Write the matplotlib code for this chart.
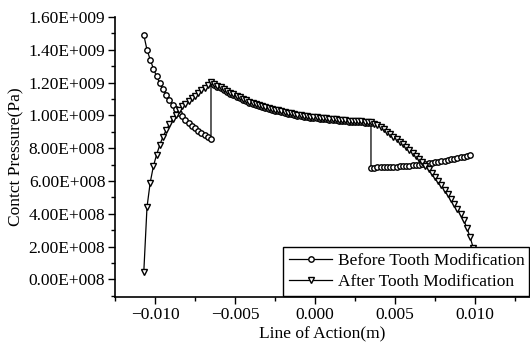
import matplotlib
matplotlib.use('Agg')
import matplotlib.pyplot as plt
from matplotlib.ticker import FixedLocator, FixedFormatter, MultipleLocator

plt.rcParams['font.family'] = ['Liberation Serif', 'DejaVu Serif']
plt.rcParams['axes.unicode_minus'] = True

# positions along the line of action, in units of 0.1 mm
x_before = [-107, -105, -103, -101, -99, -97, -95, -93, -91, -89, -87, -85, -83, -81, -79, -77, -75, -73, -71, -69, -67, -65,
            -65, -63, -61, -59, -57, -55, -53, -51, -49, -47, -45, -43, -41, -39, -37, -35, -33, -31, -29, -27, -25, -23, -21,
            -19, -17, -15, -13, -11, -9, -7, -5, -3, -1, 1, 3, 5, 7, 9, 11, 13, 15, 17, 19, 21, 23, 25, 27, 29, 31, 33, 35,
            35, 37, 39, 41, 43, 45, 47, 49, 51, 53, 55, 57, 59, 61, 63, 65, 67, 69, 71, 73, 75, 77, 79, 81, 83, 85, 87, 89,
            91, 93, 95, 97]
# contact pressure before modification, 1e9 Pa
p_before = [1.49, 1.40, 1.34, 1.285, 1.238, 1.197, 1.160, 1.126, 1.095, 1.066, 1.040, 1.016, 0.994, 0.974, 0.955, 0.938,
            0.922, 0.907, 0.893, 0.880, 0.868, 0.857,
            1.200, 1.187, 1.175, 1.164, 1.153, 1.142, 1.132, 1.122, 1.112, 1.103, 1.094, 1.086, 1.078, 1.071, 1.064, 1.057,
            1.051, 1.045, 1.039, 1.034, 1.029, 1.024, 1.019, 1.015, 1.011, 1.007, 1.003, 0.999, 0.996, 0.992, 0.989, 0.986,
            0.984, 0.981, 0.979, 0.977, 0.975, 0.973, 0.971, 0.969, 0.967, 0.965, 0.964, 0.962, 0.961, 0.959, 0.958, 0.957,
            0.955, 0.954, 0.953,
            0.680, 0.681, 0.682, 0.683, 0.684, 0.685, 0.686, 0.687, 0.688, 0.689, 0.690, 0.692, 0.694, 0.696, 0.698, 0.700,
            0.702, 0.705, 0.708, 0.711, 0.714, 0.717, 0.720, 0.723, 0.727, 0.731, 0.735, 0.739, 0.743, 0.747, 0.752, 0.757]

x_after = [-107, -105, -103, -101, -99, -97, -95, -93, -91, -89, -87, -85, -83, -81, -79, -77, -75, -73, -71, -69, -67, -65,
           -63, -61, -59, -57, -55, -53, -51, -49, -47, -45, -43, -41, -39, -37, -35, -33, -31, -29, -27, -25, -23, -21,
           -19, -17, -15, -13, -11, -9, -7, -5, -3, -1, 1, 3, 5, 7, 9, 11, 13, 15, 17, 19, 21, 23, 25, 27, 29, 31, 33, 35,
           37, 39, 41, 43, 45, 47, 49, 51, 53, 55, 57, 59, 61, 63, 65, 67, 69, 71, 73, 75, 77, 79, 81, 83, 85, 87, 89,
           91, 93, 95, 97, 99]
p_after = [0.045, 0.44, 0.59, 0.69, 0.76, 0.82, 0.87, 0.91, 0.945, 0.975, 1.005, 1.03, 1.055, 1.07, 1.088, 1.105, 1.12,
           1.137, 1.153, 1.168, 1.184, 1.205,
           1.193, 1.181, 1.170, 1.159, 1.148, 1.138, 1.128, 1.118, 1.109, 1.100, 1.092, 1.084, 1.077, 1.070, 1.063,
           1.057, 1.051, 1.045, 1.040, 1.035, 1.030, 1.025, 1.021, 1.017, 1.013, 1.009, 1.005, 1.002, 0.998, 0.995,
           0.992, 0.990, 0.987, 0.985, 0.983, 0.981, 0.979, 0.977, 0.975, 0.973, 0.971, 0.970, 0.968, 0.967, 0.965,
           0.964, 0.963, 0.961, 0.960, 0.958,
           0.950, 0.940, 0.928, 0.915, 0.901, 0.886, 0.871, 0.856, 0.840, 0.824, 0.807, 0.790, 0.772, 0.754, 0.735,
           0.715, 0.694, 0.672, 0.649, 0.625, 0.600, 0.574, 0.546, 0.518, 0.490, 0.461, 0.430, 0.398, 0.360, 0.313,
           0.255, 0.19]

x_ticks = [-0.010, -0.005, 0.000, 0.005, 0.010]
x_tick_labels = ['\u22120.010', '\u22120.005', '0.000', '0.005', '0.010']
y_ticks = [0, 2e8, 4e8, 6e8, 8e8, 1e9, 1.2e9, 1.4e9, 1.6e9]
y_tick_labels = ['0.00E+008', '2.00E+008', '4.00E+008', '6.00E+008', '8.00E+008',
                 '1.00E+009', '1.20E+009', '1.40E+009', '1.60E+009']

fig = plt.figure(figsize=(5.3, 3.49), dpi=100)
ax = fig.add_axes([115 / 530, 52 / 349, 415 / 530, 280 / 349])

ax.plot([v * 1e-4 for v in x_before], [v * 1e9 for v in p_before], color='black', lw=0.9,
        marker='o', ms=3.9, mfc='white', mec='black', mew=1.0, label='Before Tooth Modification')
ax.plot([v * 1e-4 for v in x_after], [v * 1e9 for v in p_after], color='black', lw=0.9,
        marker='v', ms=4.6, mfc='white', mec='black', mew=1.0, label='After Tooth Modification')

ax.set_xlim(-0.0125, 0.01344)
ax.set_ylim(-1.08e8, 1.6e9)
ax.xaxis.set_major_locator(FixedLocator(x_ticks))
ax.xaxis.set_major_formatter(FixedFormatter(x_tick_labels))
ax.xaxis.set_minor_locator(MultipleLocator(0.0025))
ax.yaxis.set_major_locator(FixedLocator(y_ticks))
ax.yaxis.set_major_formatter(FixedFormatter(y_tick_labels))
ax.yaxis.set_minor_locator(MultipleLocator(1e8))

for s in ['top', 'right']:
    ax.spines[s].set_visible(False)
for s in ['left', 'bottom']:
    ax.spines[s].set_linewidth(1.2)
ax.tick_params(which='major', direction='out', length=5, width=1, labelsize=12.5, pad=2)
ax.tick_params(which='minor', direction='out', length=3, width=1)

ax.set_xlabel('Line of Action(m)', fontsize=12.5, labelpad=3)
ax.set_ylabel('Contct Pressure(Pa)', fontsize=12.5, labelpad=3)

leg = ax.legend(loc='upper left', bbox_to_anchor=(283 / 530, 55 / 349, 246 / 530, 47 / 349),
                bbox_transform=fig.transFigure, mode='expand',
                fontsize=12.5, frameon=True, fancybox=False, framealpha=1, edgecolor='black',
                handlelength=2.5, handletextpad=0.3, borderpad=0.35, labelspacing=0.25, borderaxespad=0)
leg.get_frame().set_linewidth(1.0)

fig.savefig('out.png', dpi=100)
